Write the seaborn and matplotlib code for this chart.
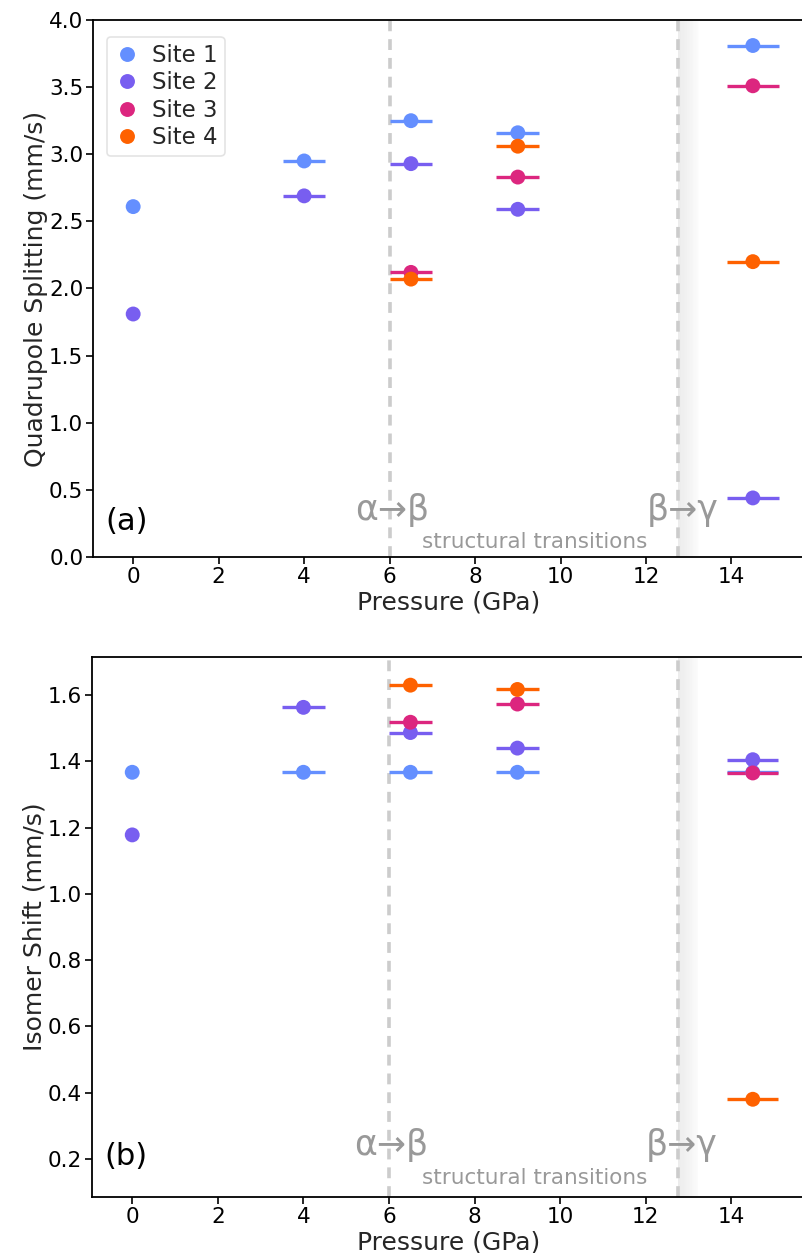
import numpy as np
import pandas as pd
import matplotlib
matplotlib.use("Agg")
import matplotlib.pyplot as plt
import matplotlib.transforms as mtransforms
import seaborn as sns

sns.set_theme(style="ticks")
plt.rcParams['font.family'] = ['DejaVu Sans']

sites = ["Site 1", "Site 2", "Site 3", "Site 4"]
colors = ["#648FFF", "#785EF0", "#DC267F", "#FE6100"]

# pressure (GPa) and pressure uncertainty per site
p_site1 = [0, 4, 6.5, 9, 14.5]
p_site2 = [0, 4, 6.5, 9, 14.5]
p_site3 = [6.5, 9, 14.5]
p_site4 = [6.5, 9, 14.5]
perr_site1 = [0, 0.5, 0.5, 0.5, 0.6]
perr_site2 = [0, 0.5, 0.5, 0.5, 0.6]
perr_site3 = [0.5, 0.5, 0.6]
perr_site4 = [0.5, 0.5, 0.6]

# quadrupole splitting (mm/s)
qs_site1 = [2.61, 2.95, 3.25, 3.16, 3.81]
qs_site2 = [1.81, 2.69, 2.93, 2.59, 0.44]
qs_site3 = [2.12, 2.83, 3.51]
qs_site4 = [2.07, 3.06, 2.20]

# isomer shift (mm/s)
is_site1 = [1.367, 1.367, 1.367, 1.367, 1.367]
is_site2 = [1.178, 1.563, 1.487, 1.440, 1.405]
is_site3 = [1.518, 1.573, 1.365]
is_site4 = [1.630, 1.617, 0.380]

transitions = [6.0, 12.75]

P = [p_site1, p_site2, p_site3, p_site4]
PE = [perr_site1, perr_site2, perr_site3, perr_site4]
QS = [qs_site1, qs_site2, qs_site3, qs_site4]
IS = [is_site1, is_site2, is_site3, is_site4]

rows = []
for s, p, pe, q, i in zip(sites, P, PE, QS, IS):
    for a, b, c, d in zip(p, pe, q, i):
        rows.append({"site": s, "P": a, "Perr": b, "QS": c, "IS": d})
df = pd.DataFrame(rows)

fig = plt.figure(figsize=(8.03, 12.53), dpi=100)
ax1 = fig.add_axes([93/803, 1-557/1253, 712/803, 537/1253])
ax2 = fig.add_axes([92/803, 1-1197/1253, 713/803, 540/1253])

gray_txt = "#999999"

def panel(ax, col, ylim, yticks, label, letter, ytxt1, ytxt2, legend):
    ax.set_xlim(-0.94, 15.72)
    ax.set_ylim(*ylim)
    for x in transitions:
        ax.axvline(x, color="#cccccc", lw=2.6, ls=(0, (3, 2.2)), zorder=1)
    # fading shade after second transition
    n = 24
    x0 = transitions[1]
    for k in range(n):
        ax.axvspan(x0 + k * 0.02, x0 + (k + 1) * 0.02, color="#999999",
                   alpha=0.18 * (1 - k / n) ** 0.7, lw=0, zorder=0)
    for s, c in zip(sites, colors):
        d = df[df.site == s]
        m = d.Perr > 0
        ax.errorbar(d.P[m], d[col][m], xerr=d.Perr[m], fmt="none", ecolor=c,
                    elinewidth=2.4, capsize=0, zorder=2)
    sns.scatterplot(data=df, x="P", y=col, hue="site", palette=colors,
                    hue_order=sites, s=115, edgecolor="none", ax=ax,
                    legend=legend, zorder=3)
    ax.set_yticks(yticks)
    ax.yaxis.set_major_formatter(matplotlib.ticker.FormatStrFormatter("%.1f"))
    ax.set_xticks(range(0, 15, 2))
    ax.tick_params(labelsize=15.5, length=5, width=1.2, colors="black", pad=2)
    ax.set_xlabel("Pressure (GPa)", fontsize=18, labelpad=3)
    ax.set_ylabel(label, fontsize=18, labelpad=1)
    for sp in ax.spines.values():
        sp.set_linewidth(1.3)
        sp.set_color("black")
    tr = mtransforms.blended_transform_factory(ax.transData, ax.transAxes)
    ax.text(6.05, ytxt1, "α→β", transform=tr, ha="center", va="center",
            fontsize=25, color=gray_txt)
    ax.text(12.85, ytxt1, "β→γ", transform=tr, ha="center", va="center",
            fontsize=25, color=gray_txt)
    ax.text(9.4, ytxt2, "structural transitions", transform=tr, ha="center",
            va="center", fontsize=15.5, color=gray_txt)
    ax.text(0.047, ytxt1 - 0.022, letter, transform=ax.transAxes, ha="center",
            va="center", fontsize=22, color="black")

panel(ax1, "QS", (0.0, 4.0), np.arange(0, 4.01, 0.5),
      "Quadrupole Splitting (mm/s)", "(a)", 0.088, 0.028, True)
panel(ax2, "IS", (0.085, 1.715), np.arange(0.2, 1.61, 0.2),
      "Isomer Shift (mm/s)", "(b)", 0.097, 0.036, False)

leg = ax1.legend(loc="upper left", fontsize=16.5, frameon=True,
                 handletextpad=0.5, handlelength=1.2,
                 borderpad=0.3, labelspacing=0.2, markerscale=1.0,
                 bbox_to_anchor=(0.003, 0.99))
leg.get_frame().set_edgecolor("#dddddd")
leg.get_frame().set_linewidth(1.2)
leg.set_title(None)

fig.savefig("out.png", dpi=100)
